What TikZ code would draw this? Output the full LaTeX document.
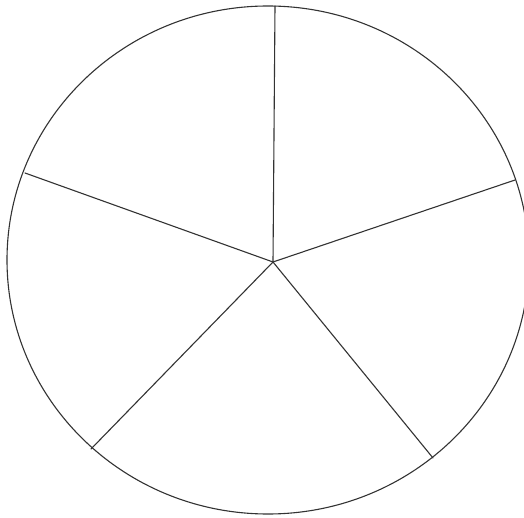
\documentclass[tikz,border=0pt]{standalone}
\begin{document}
\begin{tikzpicture}[x=1pt, y=-1pt,
    rand/.style={draw=black!80, line width=1.1pt},
    speiche/.style={draw=black!80, line width=1.1pt, line cap=round},
  ]
  % Bildausschnitt wie im Original (Kreis rechts leicht angeschnitten)
  \clip (0,0) rectangle (524,518);
  \fill[white] (0,0) rectangle (524,518);

  % Kreis (leicht oval gescannt)
  \draw[rand] (268,260) ellipse [x radius=261, y radius=254];

  % Mittelpunkt und Enden der fünf Speichen
  \coordinate (mitte) at (273,262);
  \coordinate (s1) at (275,6);
  \coordinate (s2) at (515,180);
  \coordinate (s3) at (433,458);
  \coordinate (s4) at (91,449);
  \coordinate (s5) at (25,173);

  \foreach \s in {s1,s2,s3,s4,s5}
    \draw[speiche] (mitte) -- (\s);
\end{tikzpicture}
\end{document}
